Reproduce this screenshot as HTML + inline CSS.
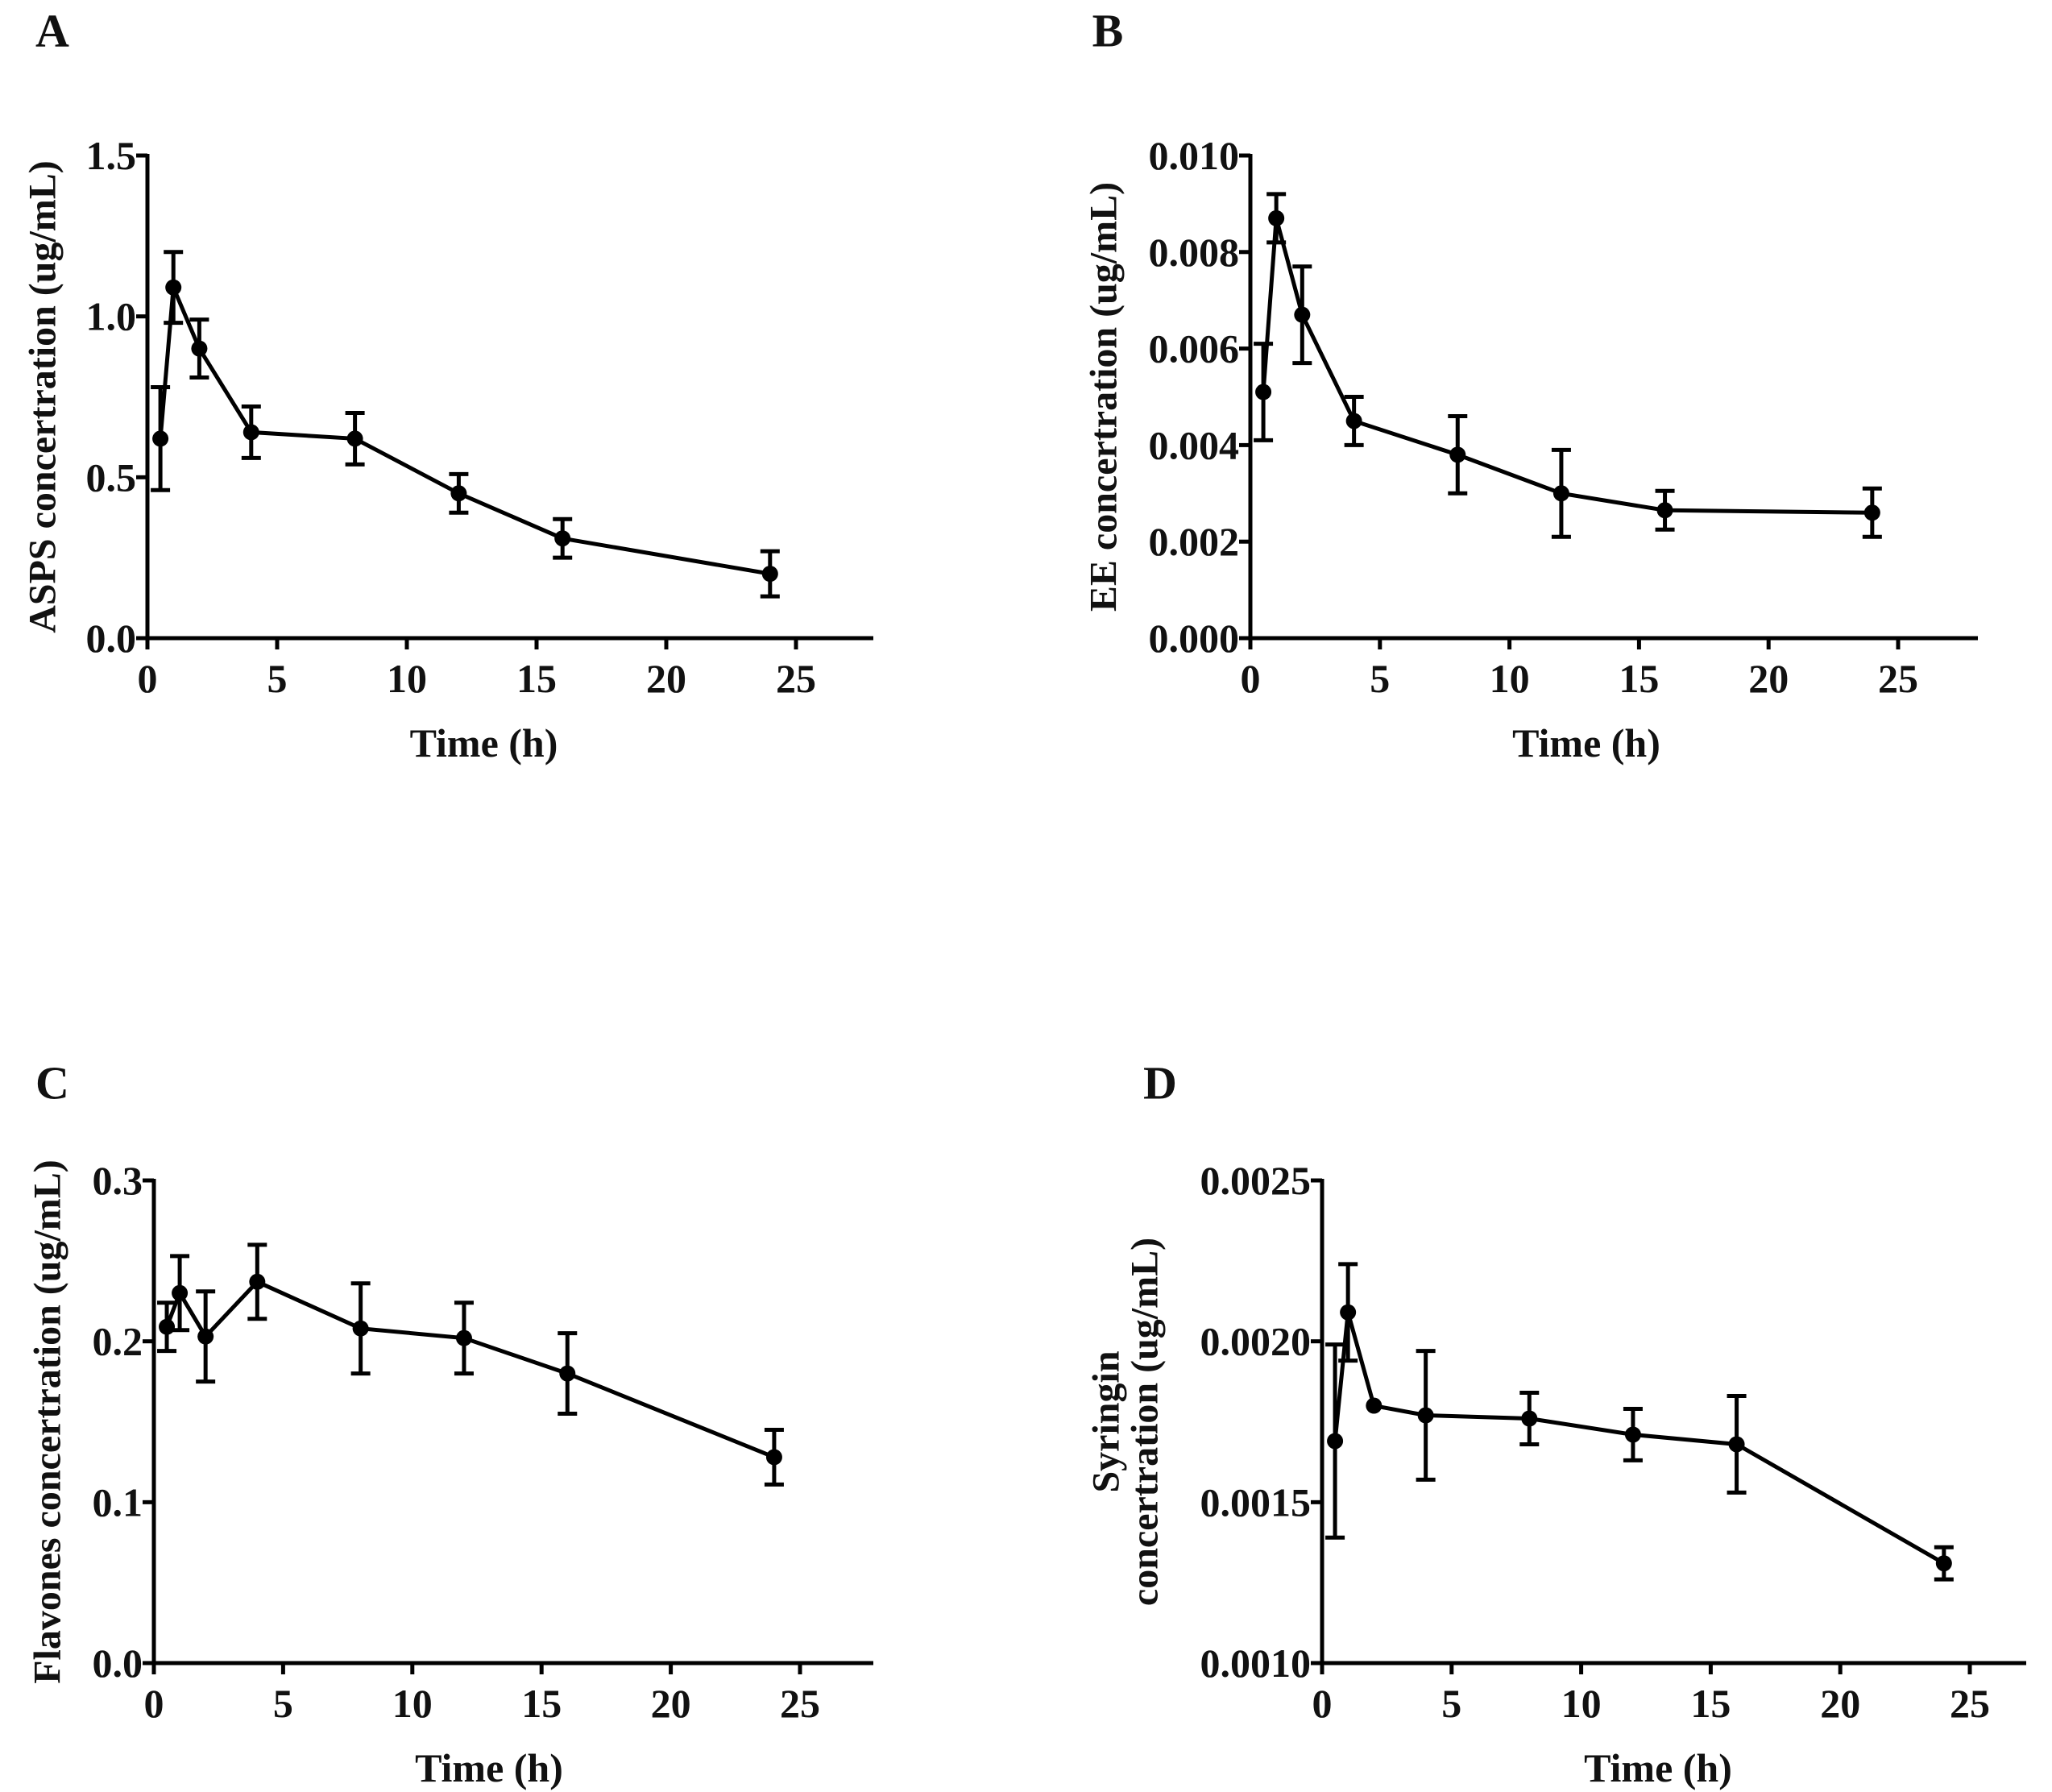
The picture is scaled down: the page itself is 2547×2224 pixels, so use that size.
<!DOCTYPE html>
<html><head><meta charset="utf-8"><style>
html,body{margin:0;padding:0;background:#fff}
svg{display:block}
text{font-family:"Liberation Serif",serif;font-weight:bold;fill:#111}
</style></head><body>
<svg id="fig" width="2547" height="2224" viewBox="0 0 2547 2224" xmlns="http://www.w3.org/2000/svg"></svg>
<script>
const times = [0.5, 1, 2, 4, 8, 12, 16, 24];
const xTicks = [0, 5, 10, 15, 20, 25];
const aMeans = [0.62, 1.09, 0.90, 0.64, 0.62, 0.45, 0.31, 0.20];
const aSD = [0.16, 0.11, 0.09, 0.08, 0.08, 0.06, 0.06, 0.07];
const aTicks = ["0.0", "0.5", "1.0", "1.5"];
const bMeans = [0.0051, 0.0087, 0.0067, 0.0045, 0.0038, 0.0030, 0.00265, 0.0026];
const bSD = [0.0010, 0.0005, 0.0010, 0.0005, 0.0008, 0.0009, 0.0004, 0.0005];
const bTicks = ["0.000", "0.002", "0.004", "0.006", "0.008", "0.010"];
const cMeans = [0.209, 0.230, 0.203, 0.237, 0.208, 0.202, 0.180, 0.128];
const cSD = [0.015, 0.023, 0.028, 0.023, 0.028, 0.022, 0.025, 0.017];
const cTicks = ["0.0", "0.1", "0.2", "0.3"];
const dMeans = [0.00169, 0.00209, 0.00180, 0.00177, 0.00176, 0.00171, 0.00168, 0.00131];
const dSD = [0.00030, 0.00015, 0, 0.00020, 0.00008, 0.00008, 0.00015, 0.00005];
const dTicks = ["0.0010", "0.0015", "0.0020", "0.0025"];

const NS = "http://www.w3.org/2000/svg";
const svg = document.getElementById('fig');
function mk(tag, attrs, parent){
  const e = document.createElementNS(NS, tag);
  for (const k in attrs) e.setAttribute(k, attrs[k]);
  parent.appendChild(e);
  return e;
}
const panels = [
  {id:'a', letter:'A', lx:65, ly:38, ax:183, top:193, bot:792, x25:988, xend:1084, ymin:0, ymax:1.5, ticks:aTicks, means:aMeans, sd:aSD, ylab:['ASPS concertration (ug/mL)'], yo:130},
  {id:'b', letter:'B', lx:1375, ly:38, ax:1552, top:193, bot:792, x25:2356, xend:2455, ymin:0, ymax:0.010, ticks:bTicks, means:bMeans, sd:bSD, ylab:['EE concertration (ug/mL)'], yo:182},
  {id:'c', letter:'C', lx:65, ly:1344, ax:191, top:1465, bot:2064, x25:993, xend:1084, ymin:0, ymax:0.3, ticks:cTicks, means:cMeans, sd:cSD, ylab:['Flavones concertration (ug/mL)'], yo:132},
  {id:'d', letter:'D', lx:1440, ly:1344, ax:1641, top:1465, bot:2064, x25:2445, xend:2515, ymin:0.001, ymax:0.0025, ticks:dTicks, means:dMeans, sd:dSD, ylab:['Syringin','concertration (ug/mL)'], yo:268}
];
panels.forEach(p => {
  const g = mk('g', {}, svg);
  
  
  const xs = t => p.ax + (p.x25 - p.ax) * t / 25;
  const ys = v => p.bot - (p.bot - p.top) * (v - p.ymin) / (p.ymax - p.ymin);
  const L = mk('text', {x:p.lx, y:p.ly, 'font-size':58, 'text-anchor':'middle', 'dominant-baseline':'central'}, g);
  L.textContent = p.letter;
  
  
  const yax = mk('line', {x1:p.ax, y1:p.top - 2, x2:p.ax, y2:p.bot, stroke:'#000', 'stroke-width':5}, g);
  
  
  const xax = mk('line', {x1:p.ax - 14, y1:p.bot, x2:p.xend, y2:p.bot, stroke:'#000', 'stroke-width':5}, g);
  
  
  const n = p.ticks.length;
  p.ticks.forEach((lab, i) => {
    const v = p.ymin + (p.ymax - p.ymin) * i / (n - 1);
    const y = ys(v);
    mk('line', {x1:p.ax - 14, y1:y, x2:p.ax, y2:y, stroke:'#000', 'stroke-width':5}, g);
    const t = mk('text', {x:p.ax - 14, y:y, 'font-size':50, 'text-anchor':'end', 'dominant-baseline':'central'}, g);
    t.textContent = lab;
    
    
  });
  xTicks.forEach(tv => {
    const x = xs(tv);
    mk('line', {x1:x, y1:p.bot, x2:x, y2:p.bot + 14, stroke:'#000', 'stroke-width':5}, g);
    const t = mk('text', {x:x, y:p.bot + 50, 'font-size':50, 'text-anchor':'middle', 'dominant-baseline':'central'}, g);
    t.textContent = tv;
    
    
  });
  const xt = mk('text', {x:(p.ax + p.x25) / 2 + 15, y:p.bot + 130, 'font-size':50, 'text-anchor':'middle', 'dominant-baseline':'central'}, g);
  xt.textContent = 'Time (h)';
  
  
  const yc = (p.top + p.bot) / 2;
  p.ylab.forEach((s, i) => {
    const cx = p.ax - p.yo + i * 48;
    const t = mk('text', {x:cx, y:yc, 'font-size':48, 'text-anchor':'middle', 'dominant-baseline':'central', transform:'rotate(-90 ' + cx + ' ' + yc + ')'}, g);
    t.textContent = s;
    
    
  });
  const pts = times.map((t, i) => xs(t) + ',' + ys(p.means[i])).join(' ');
  const pl = mk('polyline', {points:pts, fill:'none', stroke:'#000', 'stroke-width':5}, g);
  
  
  times.forEach((t, i) => {
    const x = xs(t), m = p.means[i], s = p.sd[i];
    if (s > 0) {
      const eb = mk('path', {d:'M' + (x - 12) + ' ' + ys(m + s) + 'H' + (x + 12) + 'M' + x + ' ' + ys(m + s) + 'V' + ys(m - s) + 'M' + (x - 12) + ' ' + ys(m - s) + 'H' + (x + 12), fill:'none', stroke:'#000', 'stroke-width':5}, g);
      
      
    }
    const c = mk('circle', {cx:x, cy:ys(m), r:10, fill:'#000'}, g);
    
    
  });
});
</script>
</body></html>
